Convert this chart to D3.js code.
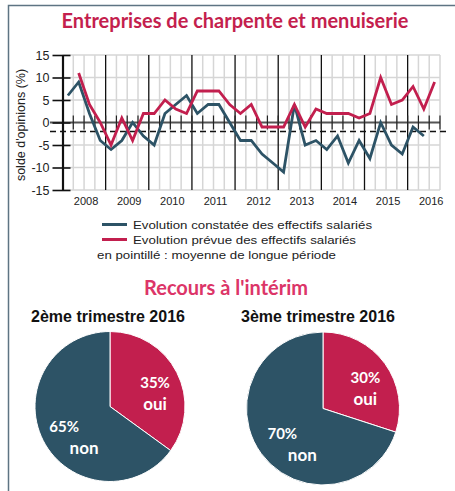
<!DOCTYPE html>
<html>
<head>
<meta charset="utf-8">
<script src="https://cdn.jsdelivr.net/npm/d3@7"></script>
<style>
  html, body { margin: 0; padding: 0; background: #fff; }
  svg { display: block; }
</style>
</head>
<body>
<div id="chart"></div>
<script>
// quarterly series, Q1 2008 .. Q3 2016 (35 quarters)
const years = ['2008', '2009', '2010', '2011', '2012', '2013', '2014', '2015', '2016'];
const constatee = [6, 9, 2, -4, -6, -4, 0, -3, -5, 2, 4, 6, 2, 4, 4, 0, -4, -4, -7, -9, -11, 4,
                   -5, -4, -6, -3, -9, -4, -8, 0, -5, -7, -1, -3];
const prevue = [null, 11, 4, 0, -5, 1, -4, 2, 2, 5, 3, 2, 7, 7, 7, 4, 2, 4, -1, -1, -1, 4,
                -1, 3, 2, 2, 2, 1, 2, 10, 4, 5, 8, 3, 9];
const moyenneLongue = -2;
const yTicks = [15, 10, 5, 0, -5, -10, -15];
const nQuarters = 35;

const pieTitles = ['2ème trimestre 2016', '3ème trimestre 2016'];
const pieOui = [35, 30];
const pieNon = [65, 70];
const pieNames = ['oui', 'non'];

const W = 455, H = 491;
const BLUE = '#2d5366', RED = '#c21f4e';
const FONT = '"Liberation Sans", Arial, sans-serif';
const TITLE_FONT = 'Lato, "Open Sans", sans-serif';

const svg = d3.select('#chart').append('svg')
  .attr('width', W)
  .attr('height', H);

svg.append('rect').attr('width', W).attr('height', H).attr('fill', '#fff');

// frame
svg.append('path')
  .attr('d', `M8.5,${H} V5.5 H${W}`)
  .attr('fill', 'none')
  .attr('stroke', '#5e7483')
  .attr('stroke-width', 1.5);

svg.append('text')
  .attr('x', 235)
  .attr('y', 28)
  .attr('text-anchor', 'middle')
  .attr('font-family', TITLE_FONT)
  .attr('font-weight', 700)
  .attr('font-size', 20)
  .attr('fill', '#c41f4e')
  .text('Entreprises de charpente et menuiserie');

// ---- line chart
const x = d3.scaleLinear().domain([0, nQuarters]).range([62.5, 440]);
const y = d3.scaleLinear().domain([-15, 15]).range([190, 55]);

const g = svg.append('g');

// horizontal grid
g.append('g').selectAll('line')
  .data(yTicks.filter(v => v !== 0))
  .join('line')
  .attr('x1', x(0)).attr('x2', x(nQuarters))
  .attr('y1', d => y(d)).attr('y2', d => y(d))
  .attr('stroke', '#d6d6d6')
  .attr('stroke-width', 1.5);

// quarter grid
const qLines = d3.range(1, nQuarters + 1);
g.append('g').selectAll('line')
  .data(qLines.filter(k => k % 4 !== 0 || k === nQuarters))
  .join('line')
  .attr('x1', d => x(d)).attr('x2', d => x(d))
  .attr('y1', y(15)).attr('y2', y(-15))
  .attr('stroke', '#d6d6d6')
  .attr('stroke-width', 1.5);

// year separators
g.append('g').selectAll('line')
  .data(qLines.filter(k => k % 4 === 0 && k < nQuarters))
  .join('line')
  .attr('x1', d => x(d)).attr('x2', d => x(d))
  .attr('y1', y(15)).attr('y2', y(-15))
  .attr('stroke', '#111')
  .attr('stroke-width', 1.3);

// zero line and its ticks
g.append('line')
  .attr('x1', 50).attr('x2', x(nQuarters))
  .attr('y1', y(0)).attr('y2', y(0))
  .attr('stroke', '#555')
  .attr('stroke-width', 2);

g.append('g').selectAll('line')
  .data(qLines)
  .join('line')
  .attr('x1', d => x(d)).attr('x2', d => x(d))
  .attr('y1', y(0) - 7).attr('y2', y(0) + 7)
  .attr('stroke', '#222')
  .attr('stroke-width', 1.2);

// long term mean
g.append('line')
  .attr('x1', 50).attr('x2', 448)
  .attr('y1', y(moyenneLongue)).attr('y2', y(moyenneLongue))
  .attr('stroke', '#111')
  .attr('stroke-width', 1.6)
  .attr('stroke-dasharray', '6,4');

// y axis
const yAxisG = g.append('g')
  .attr('transform', `translate(${x(0)},0)`)
  .call(d3.axisLeft(y).tickValues(yTicks).tickSize(10).tickSizeOuter(0).tickPadding(3)
    .tickFormat(d => d));
yAxisG.select('.domain').attr('stroke', '#111').attr('stroke-width', 2.2);
yAxisG.selectAll('.tick line').attr('stroke', '#111').attr('stroke-width', 1.6).attr('x2', -10).attr('x1', 8);
yAxisG.selectAll('.tick text')
  .attr('font-family', FONT)
  .attr('font-size', 12.5)
  .attr('fill', '#222');

g.append('text')
  .attr('transform', 'rotate(-90)')
  .attr('x', -125)
  .attr('y', 25)
  .attr('text-anchor', 'middle')
  .attr('font-family', FONT)
  .attr('font-size', 12.5)
  .attr('fill', '#222')
  .text("solde d'opinions (%)");

// year labels
g.append('g').selectAll('text')
  .data(years)
  .join('text')
  .attr('x', (d, i) => x(i * 4 + 2) + 2)
  .attr('y', 205)
  .attr('text-anchor', 'middle')
  .attr('font-family', FONT)
  .attr('font-size', 11)
  .attr('fill', '#222')
  .text(d => d);

const line = d3.line()
  .defined(d => d != null)
  .x((d, i) => x(i + 0.5))
  .y(d => y(d));

g.append('path')
  .datum(constatee)
  .attr('fill', 'none')
  .attr('stroke', BLUE)
  .attr('stroke-width', 2.8)
  .attr('d', line);

g.append('path')
  .datum(prevue)
  .attr('fill', 'none')
  .attr('stroke', RED)
  .attr('stroke-width', 2.8)
  .attr('d', line);

// legend
const legend = svg.append('g');
const legendItems = [
  { color: BLUE, label: 'Evolution constatée des effectifs salariés' },
  { color: RED, label: 'Evolution prévue des effectifs salariés' }
];
legendItems.forEach((d, i) => {
  const ly = 224.5 + i * 15;
  legend.append('line')
    .attr('x1', 102).attr('x2', 127)
    .attr('y1', ly).attr('y2', ly)
    .attr('stroke', d.color)
    .attr('stroke-width', 3);
  legend.append('text')
    .attr('x', 133).attr('y', ly + 4)
    .attr('font-family', FONT)
    .attr('font-size', 11.5)
    .attr('fill', '#222')
    .attr('textLength', i === 0 ? 239 : 223)
    .attr('lengthAdjust', 'spacingAndGlyphs')
    .text(d.label);
});
legend.append('text')
  .attr('x', 97).attr('y', 258.5)
  .attr('font-family', FONT)
  .attr('font-size', 11.5)
  .attr('fill', '#222')
  .attr('textLength', 239)
  .attr('lengthAdjust', 'spacingAndGlyphs')
  .text('en pointillé : moyenne de longue période');

// ---- pies
svg.append('text')
  .attr('x', 226)
  .attr('y', 295)
  .attr('text-anchor', 'middle')
  .attr('font-family', TITLE_FONT)
  .attr('font-weight', 700)
  .attr('font-size', 20)
  .attr('fill', '#dc3568')
  .text("Recours à l'intérim");

const pieCenters = [[110, 406.5], [323, 408.5]];
const pieR = [75, 76.5];
const pie = d3.pie().sort(null);
const pieColors = [RED, BLUE];

pieTitles.forEach((title, p) => {
  const [cx, cy] = pieCenters[p];
  svg.append('text')
    .attr('x', cx - 2 + (p === 1 ? -3 : 0))
    .attr('y', 321.5)
    .attr('text-anchor', 'middle')
    .attr('font-family', FONT)
    .attr('font-weight', 700)
    .attr('font-size', 16)
    .attr('fill', '#111')
    .text(title);

  const pg = svg.append('g').attr('transform', `translate(${cx},${cy})`);
  const arcs = pie([pieOui[p], pieNon[p]]);
  const arc = d3.arc().innerRadius(0).outerRadius(pieR[p]);

  pg.selectAll('path')
    .data(arcs)
    .join('path')
    .attr('d', arc)
    .attr('fill', (d, i) => pieColors[i])
    .attr('stroke', '#fff')
    .attr('stroke-width', 1);

  // labels lean towards the horizontal
  const labelPos = d => {
    const a = (d.startAngle + d.endAngle) / 2 + (d.index === 0 ? 0.18 : -0.23);
    return [Math.sin(a) * 47, -Math.cos(a) * 47];
  };
  const lab = pg.selectAll('g.lab')
    .data(arcs)
    .join('g')
    .attr('class', 'lab')
    .attr('transform', d => `translate(${labelPos(d)})`);

  lab.append('text')
    .attr('x', d => d.index === 1 ? -10 : 0)
    .attr('y', -5)
    .attr('text-anchor', 'middle')
    .attr('font-family', TITLE_FONT)
    .attr('font-weight', 700)
    .attr('font-size', 15)
    .attr('fill', '#fff')
    .text(d => d.value + '%');

  lab.append('text')
    .attr('x', d => d.index === 1 ? 10 : 0)
    .attr('y', 17)
    .attr('text-anchor', 'middle')
    .attr('font-family', TITLE_FONT)
    .attr('font-weight', 700)
    .attr('font-size', 17)
    .attr('fill', '#fff')
    .text(d => pieNames[d.index]);
});
</script>
</body>
</html>
